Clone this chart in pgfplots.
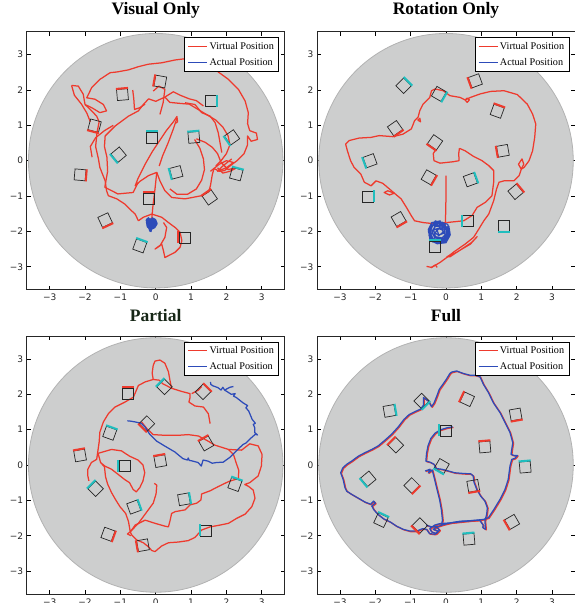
\documentclass[border=0pt]{standalone}
\usepackage{fontspec}
\setmainfont{Liberation Serif}
\newfontfamily\tickfont{DejaVu Sans}
\usepackage{pgfplots}
\usepackage{pgfplotstable}
\pgfplotsset{compat=1.18}
\definecolor{vred}{RGB}{238,58,45}
\definecolor{vblue}{RGB}{45,75,185}
\definecolor{vcyan}{RGB}{32,190,190}
\definecolor{disk}{RGB}{205,206,206}
\definecolor{diskedge}{RGB}{178,178,178}
\definecolor{ptitle}{RGB}{22,38,22}

\pgfdeclareplotmark{sq}{%
  \pgfpathrectangle{\pgfpoint{-\pgfplotmarksize}{-\pgfplotmarksize}}{\pgfpoint{2*\pgfplotmarksize}{2*\pgfplotmarksize}}%
  \pgfusepathqstroke}
\pgfdeclareplotmark{edge}{%
  \pgfpathmoveto{\pgfpoint{-\pgfplotmarksize-0.6pt}{\pgfplotmarksize+0.7pt}}%
  \pgfpathlineto{\pgfpoint{\pgfplotmarksize+0.6pt}{\pgfplotmarksize+0.7pt}}%
  \pgfusepathqstroke}

\pgfplotsset{
  panel/.style={
    width=258pt, height=258pt, scale only axis, anchor=south west,
    xmin=-3.65, xmax=3.65, ymin=-3.65, ymax=3.65,
    xtick={-3,-2,-1,0,1,2,3}, ytick={-3,-2,-1,0,1,2,3},
    xticklabels={−3,−2,−1,0,1,2,3}, yticklabels={−3,−2,−1,0,1,2,3},
    tick align=inside, major tick length=4pt,
    tick style={black, line width=0.6pt},
    axis line style={black!85, line width=0.9pt},
    ticklabel style={font=\tickfont\fontsize{9}{10}\selectfont, text=black!85},
    xticklabel style={yshift=-1pt},
    legend style={at={(0.979,0.978)}, anchor=north east, draw=black, line width=0.8pt,
      fill=white, font=\fontsize{10.2}{12}\selectfont, inner xsep=3pt, inner ysep=2.2pt,
      row sep=3.6pt},
    legend cell align=left,
    legend image code/.code={\path (-2pt,0pt) -- (17pt,0pt);\draw[#1, line width=1.3pt] (0pt,0pt) -- (14pt,0pt);},
    title style={font=\bfseries\fontsize{17.5}{20}\selectfont, anchor=base, at={(0.5,1)}, yshift=11pt},
  },
  boxes/.style={scatter, only marks, mark=sq, mark size=5.5pt,
    mark options={draw=black!85, line width=0.7pt, solid},
    visualization depends on={\thisrow{a} \as \rot},
    scatter/@pre marker code/.code={\pgfscope\pgftransformrotate{\rot}},
    scatter/@post marker code/.code={\endpgfscope}, forget plot},
  edges/.style={scatter, only marks, mark=edge, mark size=5.5pt,
    mark options={line width=2pt, solid},
    visualization depends on={\thisrow{a} \as \rot},
    visualization depends on={\thisrow{c} \as \col},
    scatter/@pre marker code/.code={\pgfscope\pgftransformrotate{\rot}\pgfmathtruncatemacro\cc{\col}\ifnum\cc=0 \pgfsetstrokecolor{vred}\else\pgfsetstrokecolor{vcyan}\fi},
    scatter/@post marker code/.code={\endpgfscope}, forget plot},
  vpath/.style={vred, line width=1.25pt, line join=round, forget plot},
  apath/.style={vblue, line width=1.25pt, line join=round, forget plot},
}

% squares: x y rotation colour(0 red, 1 cyan)
\pgfplotstableread[row sep=\\]{
x y a c\\
0.13 2.24 80 0\\
-0.94 1.87 5 0\\
1.56 1.68 -90 1\\
-1.73 0.99 165 0\\
-0.10 0.66 0 1\\
1.08 0.66 5 1\\
2.16 0.66 125 1\\
-1.05 0.17 130 1\\
-2.14 -0.40 -95 0\\
0.58 -0.33 105 1\\
2.28 -0.38 -15 1\\
-0.19 -1.07 0 0\\
1.53 -1.04 35 0\\
-1.43 -1.68 -155 0\\
0.82 -2.17 90 0\\
-0.45 -2.41 -20 1\\
}\sqA
\pgfplotstableread[row sep=\\]{
x y a c\\
-1.20 2.12 -45 1\\
0.83 2.26 110 0\\
-0.20 1.89 -120 1\\
1.45 1.40 -20 0\\
-1.44 0.92 -145 0\\
-0.31 0.52 145 0\\
1.61 0.28 100 0\\
-2.15 0.00 110 1\\
-0.49 -0.47 -120 0\\
0.69 -0.54 -70 1\\
-2.21 -1.01 -90 1\\
1.97 -0.88 -50 0\\
-1.34 -1.65 -150 0\\
0.62 -1.70 90 1\\
1.64 -1.84 180 1\\
-0.31 -2.43 0 1\\
}\sqB
\pgfplotstableread[row sep=\\]{
x y a c\\
-0.78 2.02 0 0\\
0.25 2.21 45 1\\
1.34 2.07 -45 0\\
-0.25 1.17 135 0\\
-1.30 0.90 -20 1\\
1.43 0.61 30 0\\
-2.14 0.27 10 0\\
0.13 0.11 10 0\\
-0.88 -0.03 90 1\\
-1.70 -0.67 45 1\\
2.24 -0.55 -20 1\\
0.80 -0.97 -80 1\\
-0.62 -1.19 -70 1\\
1.42 -1.85 90 1\\
-1.35 -1.96 -110 0\\
-0.36 -2.27 100 0\\
}\sqC
\pgfplotstableread[row sep=\\]{
x y a c\\
-1.60 1.53 -80 1\\
-0.69 1.81 -135 1\\
0.60 1.86 65 0\\
1.97 1.43 -170 0\\
-0.01 0.98 90 1\\
-1.42 0.56 45 0\\
1.10 0.51 5 0\\
-0.12 -0.03 150 1\\
2.24 -0.06 5 1\\
-2.20 -0.39 130 1\\
-0.97 -0.58 -135 0\\
0.77 -0.59 -170 0\\
-1.84 -1.56 -25 1\\
-0.74 -1.71 135 0\\
1.87 -1.61 120 0\\
0.65 -2.10 5 1\\
}\sqD

\begin{document}
\begin{tikzpicture}
\path[use as bounding box, clip] (0pt,0pt) rectangle (575pt,603pt);

% ---------------- Visual Only
\begin{axis}[panel, at={(26.7pt,313.3pt)}, title={Visual Only}]
\fill[disk, draw=diskedge, line width=0.8pt] (axis cs:0,0) circle[radius=3.6];
\addplot[black!85, boxes] table {\sqA};
\addplot[edges] table {\sqA};
\addplot[vpath] coordinates {(-2.38,2.13) (-2.19,2.11) (-2.05,1.88) (-2.0,1.59) (-1.81,1.5) (-1.58,1.36) (-1.39,1.41) (-1.48,1.59) (-1.72,1.74) (-1.95,1.78) (-1.81,2.07) (-1.58,2.30) (-1.29,2.49) (-1.10,2.51) (-0.77,2.57) (-0.49,2.66) (-0.21,2.73) (0.17,2.77) (0.55,2.85) (0.95,2.9) (1.4,2.92) (1.65,2.8) (1.77,2.51) (2.06,2.30) (2.34,2.02) (2.53,1.69) (2.62,1.36) (2.6,1.05) (2.66,0.85) (2.85,0.78) (2.88,0.6) (2.7,0.55) (2.6,0.7) (2.6,0.45) (2.5,0.2) (2.3,0.0) (2.1,-0.15) (1.95,-0.28) (1.8,-0.3) (1.65,-0.22) (1.6,-0.4) (1.55,-0.7) (1.5,-0.88) (1.3,-0.99) (0.83,-1.08) (0.45,-1.04) (0.26,-0.85) (0.12,-0.57) (0.03,-0.33)};
\addplot[vpath] coordinates {(-0.12,-1.75) (-0.08,-1.3) (-0.02,-0.8) (0.03,-0.33) (-0.2,-0.42) (-0.44,-0.58) (-0.58,-0.71) (-0.5,-0.5) (-0.3,-0.1) (-0.1,0.25) (0.1,0.55) (0.3,0.85) (0.5,1.1) (0.6,1.25) (0.62,1.1) (0.55,1.05)};
\addplot[vpath] coordinates {(-0.49,-1.70) (-0.58,-1.51) (-0.68,-1.42) (-0.87,-1.23) (-1.10,-1.08) (-1.34,-0.99) (-1.39,-0.85) (-1.43,-0.57) (-1.58,-0.19) (-1.62,0.05) (-1.7,0.4) (-1.66,0.8) (-1.6,1.1) (-1.67,1.26) (-1.85,1.45) (-2.0,1.59)};
\addplot[vpath] coordinates {(-1.36,-0.3) (-1.38,0.1) (-1.45,0.4) (-1.43,0.7) (-1.15,0.98) (-0.77,1.26) (-0.49,1.41) (-0.35,1.59) (-0.2,1.75) (0.0,1.68) (0.26,1.8) (0.4,1.65) (0.7,1.62) (0.95,1.6) (1.2,1.45) (1.45,1.3) (1.7,1.15) (1.9,0.95) (2.05,0.7) (2.1,0.45) (2.0,0.2) (1.85,0.0) (1.7,-0.15)};
\addplot[vpath] coordinates {(-0.65,2.0) (-0.62,1.75) (-0.6,1.45) (-0.45,1.5) (-0.3,1.6)};
\addplot[vpath] coordinates {(-0.07,1.97) (0.09,2.11) (0.26,2.02) (0.21,1.64) (0.12,1.31)};
\addplot[vpath] coordinates {(0.83,1.64) (1.11,1.59) (1.30,1.36) (1.54,1.26) (1.68,1.08) (1.77,0.79) (1.82,0.51) (1.87,0.23)};
\addplot[vpath] coordinates {(1.15,0.62) (1.4,0.52) (1.6,0.38) (1.75,0.2) (1.85,-0.05) (2.05,-0.25) (2.3,-0.2) (2.1,-0.3) (1.9,-0.35) (1.75,-0.2)};
\addplot[vpath] coordinates {(1.55,-0.3) (1.8,-0.1) (2.0,0.0) (2.2,-0.05) (2.0,-0.2) (1.75,-0.3) (1.9,-0.15) (2.15,0.05)};
\addplot[vpath] coordinates {(0.26,1.8) (0.5,1.95) (0.7,1.85) (0.95,1.75) (1.15,1.7) (1.35,1.55)};
\addplot[vpath] coordinates {(-1.8,0.1) (-1.85,0.4) (-1.7,0.65) (-1.45,0.85) (-1.2,1.0)};
\addplot[vpath] coordinates {(1.1,0.6) (1.25,0.35) (1.35,0.05) (1.38,-0.25) (1.3,-0.55) (1.15,-0.8) (0.9,-0.95) (0.6,-0.95) (0.4,-0.8)};
\addplot[vpath] coordinates {(0.6,1.2) (0.5,0.9) (0.35,0.5) (0.2,0.15) (0.1,-0.15)};
\addplot[vpath] coordinates {(-2.38,2.13) (-2.3,1.85) (-2.1,1.6) (-1.95,1.35) (-1.85,1.1)};
\addplot[vpath] coordinates {(-0.49,-1.70) (-0.35,-1.6) (-0.11,-1.51) (0.17,-1.60) (0.36,-1.75) (0.55,-1.89) (0.69,-2.03) (0.74,-2.26) (0.69,-2.45) (0.55,-2.59) (0.26,-2.74) (0.22,-2.55) (0.17,-2.36) (-0.02,-2.5) (0.12,-2.41) (0.26,-2.17) (0.31,-1.89) (0.22,-1.75)};
\addplot[vpath] coordinates {(-1.36,-0.3) (-1.44,-0.75) (-1.07,-0.94) (-0.64,-0.90) (-0.5,-0.62)};
\addplot[vblue, line width=2.6pt, line join=round, forget plot] coordinates {(-0.12,-1.63) (-0.02,-1.68) (0.02,-1.78) (-0.04,-1.88) (-0.14,-1.93) (-0.22,-1.86) (-0.24,-1.74) (-0.17,-1.66) (-0.06,-1.72) (-0.05,-1.83) (-0.15,-1.87) (-0.2,-1.78) (-0.12,-1.72) (-0.1,-1.8) (-0.16,-1.96) (-0.14,-1.99) (-0.18,-1.9) (-0.25,-1.68) (-0.18,-1.62)};
\addlegendimage{draw=vred}\addlegendentry{Virtual Position}
\addlegendimage{draw=vblue}\addlegendentry{Actual Position}
\end{axis}

% ---------------- Rotation Only
\begin{axis}[panel, at={(317pt,313.3pt)}, title={Rotation Only}]
\fill[disk, draw=diskedge, line width=0.8pt] (axis cs:0,0) circle[radius=3.6];
\addplot[black!85, boxes] table {\sqB};
\addplot[edges] table {\sqB};
\addplot[vpath] coordinates {(0.02,-1.75) (-0.46,-1.77) (-0.65,-1.75) (-0.89,-1.70) (-0.98,-1.56) (-1.12,-1.32) (-1.27,-1.08) (-1.46,-0.92) (-1.60,-0.80) (-1.79,-0.64) (-1.98,-0.57) (-2.12,-0.71) (-2.31,-0.61) (-2.41,-0.38) (-2.60,-0.19) (-2.70,0.0) (-2.79,0.28) (-2.84,0.47) (-2.74,0.57) (-2.46,0.64) (-2.12,0.66) (-1.89,0.71) (-1.50,0.68) (-1.22,0.75) (-0.98,0.90) (-0.89,1.13) (-0.79,1.23) (-0.74,1.42) (-0.65,1.60) (-0.46,1.79) (-0.41,1.98) (-0.31,2.03) (-0.08,1.98) (0.11,1.84) (0.40,1.79) (0.54,1.72) (0.69,1.79) (0.97,1.89) (1.26,1.96) (1.64,1.98) (2.02,1.87) (2.30,1.60) (2.45,1.32) (2.54,1.04) (2.51,0.66) (2.45,0.28) (2.35,0.0) (2.21,-0.19) (2.13,-0.24) (2.07,-0.42) (1.92,-0.57) (1.64,-0.57) (1.50,-0.61) (1.43,-0.80) (1.35,-1.13) (1.21,-1.51) (1.07,-1.70) (0.90,-1.98) (0.78,-2.17) (0.54,-2.36) (0.21,-2.59) (0.02,-2.74) (-0.17,-2.88) (-0.41,-3.02) (-0.55,-2.99)};
\addplot[vpath] coordinates {(0.02,-2.72) (0.30,-2.59) (0.69,-2.36) (0.88,-2.15) (0.73,-2.31) (0.40,-2.53) (0.11,-2.72) (0.02,-2.72)};
\addplot[vpath] coordinates {(0.0,-0.42) (0.0,-1.0) (-0.01,-1.5) (-0.02,-1.85)};
\addplot[vpath] coordinates {(0.38,0.35) (0.54,0.28) (0.78,0.12) (1.02,0.0) (1.21,-0.14) (1.35,-0.28) (1.35,-0.6) (1.30,-0.99) (1.11,-1.18) (0.88,-1.32) (0.74,-1.55) (0.50,-1.70) (0.02,-1.75)};
\addplot[vpath] coordinates {(0.38,0.35) (0.36,0.2) (0.37,0.0) (0.2,-0.03) (-0.17,-0.07) (-0.34,0.0) (-0.36,0.2) (-0.3,0.3)};
\addplot[vpath] coordinates {(-1.46,-0.92) (-1.65,-0.85) (-1.75,-0.9) (-1.6,-0.97) (-1.46,-0.92)};
\addplot[vpath] coordinates {(2.13,-0.24) (2.2,-0.1) (2.15,0.05) (2.05,-0.1) (2.13,-0.24)};
\addplot[vpath] coordinates {(-0.8,1.15) (-0.74,1.2) (-0.72,1.1) (-0.8,1.15)};
\addplot[vpath] coordinates {(0.54,1.72) (0.6,1.65) (0.66,1.72) (0.6,1.77) (0.54,1.72)};
\addplot[vpath] coordinates {(-0.43,-3.03) (-0.3,-2.95) (-0.25,-3.02)};
\addplot[vblue, line width=1.2pt, line join=round, forget plot] coordinates {(-0.2,-1.72) (0.05,-1.8) (0.1,-2.05) (-0.02,-2.3) (-0.3,-2.32) (-0.48,-2.12) (-0.45,-1.85) (-0.25,-1.75) (0.0,-1.9) (0.02,-2.15) (-0.2,-2.25) (-0.4,-2.05) (-0.3,-1.82) (-0.05,-1.85) (0.08,-2.1) (-0.1,-2.32) (-0.35,-2.25) (-0.47,-1.98) (-0.35,-1.78) (-0.1,-1.74) (0.06,-1.95) (-0.05,-2.2) (-0.3,-2.15) (-0.35,-1.95) (-0.15,-1.9) (-0.05,-2.05) (-0.2,-2.1) (-0.25,-1.98) (-0.12,-1.8) (0.1,-1.95) (0.0,-2.25) (-0.38,-2.3) (-0.5,-2.0) (-0.3,-1.7) (-0.2,-1.75) (-0.02,-1.83) (0.05,-2.0) (-0.02,-2.2) (-0.2,-2.28) (-0.38,-2.2) (-0.45,-2.02) (-0.38,-1.84) (-0.2,-1.78) (-0.05,-1.9) (-0.03,-2.1) (-0.15,-2.22) (-0.32,-2.18) (-0.4,-2.0) (-0.3,-1.86) (-0.12,-1.85) (-0.08,-2.02) (-0.2,-2.12) (-0.3,-2.05) (-0.25,-1.92) (-0.1,-1.95) (0.08,-1.85) (0.12,-2.1) (0.0,-2.32) (-0.25,-2.35) (-0.45,-2.25) (-0.5,-1.95) (-0.4,-1.75) (-0.15,-1.7)};
\addlegendimage{draw=vred}\addlegendentry{Virtual Position}
\addlegendimage{draw=vblue}\addlegendentry{Actual Position}
\end{axis}

% ---------------- Partial
\begin{axis}[panel, at={(26.7pt,9pt)}, title={Partial}, title style={yshift=-3pt, text=ptitle}]
\fill[disk, draw=diskedge, line width=0.8pt] (axis cs:0,0) circle[radius=3.6];
\addplot[black!85, boxes] table {\sqC};
\addplot[edges] table {\sqC};
\addplot[vpath] coordinates {(0.45,2.17) (0.41,2.36) (0.36,2.64) (0.26,2.88) (0.12,2.97) (-0.02,2.94) (-0.07,2.82) (-0.1,2.6) (-0.07,2.42) (-0.30,2.35) (-0.49,2.25) (-0.63,1.92) (-0.87,1.78) (-1.15,1.64) (-1.34,1.45) (-1.48,1.22) (-1.58,0.93) (-1.60,0.65) (-1.64,0.37) (-1.67,0.16) (-1.82,0.07) (-1.92,-0.12) (-1.92,-0.31) (-1.89,-0.45)};
\addplot[vpath] coordinates {(-0.07,2.42) (0.1,2.4) (0.2,2.3) (0.45,2.17) (0.74,2.08) (0.97,2.02) (0.97,1.9) (0.94,1.78) (1.11,1.67) (1.35,1.64) (1.49,1.45) (1.54,1.17)};
\addplot[vpath] coordinates {(1.02,2.02) (1.21,2.12) (1.3,2.22)};
\addplot[vpath] coordinates {(-0.40,1.22) (-0.25,1.03) (-0.07,0.86) (0.26,0.84) (0.64,0.84) (0.92,0.86) (1.21,0.82) (1.44,0.70) (1.68,0.56) (2.06,0.44) (2.43,0.42) (2.66,0.6) (2.90,0.54) (3.01,0.30) (2.99,-0.03) (2.90,-0.31) (2.66,-0.50) (2.52,-0.55) (2.62,-0.6) (2.76,-0.71) (2.81,-0.94) (2.72,-1.18) (2.53,-1.39) (2.29,-1.51) (2.06,-1.65) (1.77,-1.71) (1.54,-1.75) (1.30,-1.84) (1.11,-2.05) (0.92,-2.14) (0.64,-2.18) (0.36,-2.20) (0.17,-2.29) (-0.02,-2.45) (-0.11,-2.42) (-0.21,-2.31) (-0.35,-2.20) (-0.54,-2.12) (-0.68,-1.98) (-0.72,-1.89)};
\addplot[vpath] coordinates {(2.06,0.44) (2.2,0.3) (2.28,0.05) (2.35,-0.15) (2.34,-0.38) (2.06,-0.47) (1.77,-0.61) (1.54,-0.73) (1.30,-0.82) (1.28,-0.99) (1.16,-1.08) (0.97,-1.13) (0.83,-1.27) (0.55,-1.32) (0.45,-1.37) (0.41,-1.56) (0.36,-1.75) (0.26,-1.73) (-0.02,-1.65) (-0.30,-1.56) (-0.58,-1.70) (-0.68,-1.84) (-0.72,-1.89) (-0.77,-1.60) (-0.85,-1.37) (-1.01,-1.18) (-1.13,-0.99) (-1.25,-0.78) (-1.36,-0.54) (-1.42,-0.33) (-1.45,-0.05) (-1.56,0.07) (-1.63,0.33) (-1.25,0.44) (-0.97,0.40) (-0.74,0.25) (-0.50,0.14) (-0.36,0.0) (-0.31,-0.22) (-0.36,-0.45) (-0.45,-0.64) (-0.55,-0.76) (-0.64,-0.69) (-0.74,-0.50) (-0.88,-0.41) (-1.07,-0.26) (-1.25,-0.12) (-1.44,-0.03) (-1.56,0.07)};
\addplot[vpath] coordinates {(-0.72,-1.89) (-0.49,-1.65) (-0.35,-1.46) (-0.21,-1.27) (-0.07,-1.08) (0.01,-0.82) (0.03,-0.57) (-0.04,-0.52)};
\addplot[vpath] coordinates {(-0.72,-1.89) (-0.8,-1.95) (-0.7,-2.0)};
\addplot[apath] coordinates {(-0.80,1.25) (-0.7,1.24) (-0.59,1.22) (-0.5,1.2) (-0.41,1.18) (-0.29,1.06) (-0.17,0.87) (0.02,0.68) (0.25,0.54) (0.54,0.37) (0.77,0.18) (0.9,0.14) (0.92,0.2) (0.95,0.13) (1.01,0.12) (1.20,0.07) (1.29,-0.03) (1.34,0.14) (1.48,0.11) (1.6,0.05) (1.72,0.07) (1.91,0.08) (2.09,0.21) (2.28,0.40) (2.47,0.58) (2.55,0.62) (2.66,0.73) (2.82,0.87) (2.88,0.85) (2.8,0.92) (2.80,1.06) (2.76,1.15) (2.82,1.18) (2.73,1.29) (2.63,1.53) (2.55,1.62) (2.6,1.68) (2.47,1.76) (2.28,1.91) (2.2,1.95) (2.25,2.02) (2.14,2.0) (1.95,2.12) (1.9,2.2) (1.85,2.12) (1.76,2.19) (1.62,2.24) (1.56,2.28) (1.55,2.35)};
\addplot[apath] coordinates {(1.95,2.12) (2.1,2.2) (2.2,2.22)};
\addlegendimage{draw=vred}\addlegendentry{Virtual Position}
\addlegendimage{draw=vblue}\addlegendentry{Actual Position}
\end{axis}

% ---------------- Full
\begin{axis}[panel, at={(317pt,9pt)}, title={Full}, title style={yshift=-3pt}]
\fill[disk, draw=diskedge, line width=0.8pt] (axis cs:0,0) circle[radius=3.6];
\addplot[black!85, boxes] table {\sqD};
\addplot[edges] table {\sqD};
\addplot[vpath, xshift=0.8pt, yshift=-0.6pt] coordinates {(0.16,2.63) (0.30,2.66) (0.49,2.59) (0.68,2.54) (0.82,2.54) (0.96,2.50) (1.06,2.28) (1.20,2.05) (1.34,1.76) (1.53,1.48) (1.67,1.20) (1.81,0.92) (1.89,0.63) (1.86,0.44) (1.84,0.30) (1.92,0.27) (2.02,0.27) (1.95,0.19) (1.86,0.16) (1.81,-0.03) (1.76,-0.41) (1.67,-0.69) (1.53,-0.97) (1.36,-1.25) (1.20,-1.49) (1.06,-1.54) (0.87,-1.56) (0.63,-1.58) (0.40,-1.59) (0.16,-1.63) (-0.08,-1.69) (-0.26,-1.75) (-0.36,-1.82) (-0.22,-1.87) (-0.31,-1.96) (-0.47,-1.94) (-0.55,-1.82) (-0.66,-1.80) (-0.83,-1.87) (-1.02,-1.87) (-1.21,-1.82) (-1.40,-1.73) (-1.58,-1.61) (-1.77,-1.52) (-1.92,-1.40) (-2.04,-1.27) (-2.10,-1.16) (-2.0,-1.08) (-2.05,-1.02) (-2.13,-1.11) (-2.29,-1.05) (-2.48,-0.94) (-2.67,-0.83) (-2.81,-0.74) (-2.86,-0.64) (-2.91,-0.41) (-2.98,-0.22) (-2.92,-0.08) (-2.81,0.02) (-2.67,0.11) (-2.48,0.25) (-2.29,0.35) (-2.10,0.44) (-1.92,0.54) (-1.73,0.70) (-1.54,0.87) (-1.35,1.08) (-1.19,1.29) (-1.04,1.43) (-0.88,1.51) (-0.72,1.58) (-0.64,1.69) (-0.64,1.91) (-0.50,1.81) (-0.41,1.65) (-0.34,1.75) (-0.26,1.95) (-0.19,2.14) (-0.09,2.28) (0.02,2.44) (0.11,2.59) (0.16,2.63)};
\addplot[vpath, xshift=0.8pt, yshift=-0.6pt] coordinates {(0.19,1.08) (0.02,1.05) (-0.17,0.99) (-0.31,0.90) (-0.43,0.75) (-0.51,0.54) (-0.55,0.33) (-0.57,0.11) (-0.45,0.08) (-0.34,0.02) (-0.28,-0.10) (-0.12,-0.12) (0.07,-0.17) (0.25,-0.22) (0.49,-0.24) (0.70,-0.25) (0.77,-0.31) (0.79,-0.48) (0.87,-0.69) (0.98,-0.88) (1.10,-1.02) (1.17,-1.21) (1.15,-1.40) (1.10,-1.58) (1.12,-1.82) (1.04,-1.77) (1.05,-1.70) (0.95,-1.56) (0.67,-1.58) (0.39,-1.61) (0.10,-1.64) (-0.18,-1.66) (-0.32,-1.70) (-0.46,-1.80) (-0.41,-1.89) (-0.27,-1.94) (-0.18,-1.84) (-0.27,-1.75) (-0.41,-1.75) (-0.56,-1.70)};
\addplot[vpath, xshift=0.8pt, yshift=-0.6pt] coordinates {(-0.59,-0.17) (-0.45,-0.12) (-0.5,-0.22) (-0.39,-0.14) (-0.32,-0.42) (-0.25,-0.71) (-0.18,-0.99) (-0.13,-1.27) (-0.10,-1.56) (-0.13,-1.70)};
\addplot[apath] coordinates {(0.16,2.63) (0.30,2.66) (0.49,2.59) (0.68,2.54) (0.82,2.54) (0.96,2.50) (1.06,2.28) (1.20,2.05) (1.34,1.76) (1.53,1.48) (1.67,1.20) (1.81,0.92) (1.89,0.63) (1.86,0.44) (1.84,0.30) (1.92,0.27) (2.02,0.27) (1.95,0.19) (1.86,0.16) (1.81,-0.03) (1.76,-0.41) (1.67,-0.69) (1.53,-0.97) (1.36,-1.25) (1.20,-1.49) (1.06,-1.54) (0.87,-1.56) (0.63,-1.58) (0.40,-1.59) (0.16,-1.63) (-0.08,-1.69) (-0.26,-1.75) (-0.36,-1.82) (-0.22,-1.87) (-0.31,-1.96) (-0.47,-1.94) (-0.55,-1.82) (-0.66,-1.80) (-0.83,-1.87) (-1.02,-1.87) (-1.21,-1.82) (-1.40,-1.73) (-1.58,-1.61) (-1.77,-1.52) (-1.92,-1.40) (-2.04,-1.27) (-2.10,-1.16) (-2.0,-1.08) (-2.05,-1.02) (-2.13,-1.11) (-2.29,-1.05) (-2.48,-0.94) (-2.67,-0.83) (-2.81,-0.74) (-2.86,-0.64) (-2.91,-0.41) (-2.98,-0.22) (-2.92,-0.08) (-2.81,0.02) (-2.67,0.11) (-2.48,0.25) (-2.29,0.35) (-2.10,0.44) (-1.92,0.54) (-1.73,0.70) (-1.54,0.87) (-1.35,1.08) (-1.19,1.29) (-1.04,1.43) (-0.88,1.51) (-0.72,1.58) (-0.64,1.69) (-0.64,1.91) (-0.50,1.81) (-0.41,1.65) (-0.34,1.75) (-0.26,1.95) (-0.19,2.14) (-0.09,2.28) (0.02,2.44) (0.11,2.59) (0.16,2.63)};
\addplot[apath] coordinates {(0.19,1.08) (0.02,1.05) (-0.17,0.99) (-0.31,0.90) (-0.43,0.75) (-0.51,0.54) (-0.55,0.33) (-0.57,0.11) (-0.45,0.08) (-0.34,0.02) (-0.28,-0.10) (-0.12,-0.12) (0.07,-0.17) (0.25,-0.22) (0.49,-0.24) (0.70,-0.25) (0.77,-0.31) (0.79,-0.48) (0.87,-0.69) (0.98,-0.88) (1.10,-1.02) (1.17,-1.21) (1.15,-1.40) (1.10,-1.58) (1.12,-1.82) (1.04,-1.77) (1.05,-1.70) (0.95,-1.56) (0.67,-1.58) (0.39,-1.61) (0.10,-1.64) (-0.18,-1.66) (-0.32,-1.70) (-0.46,-1.80) (-0.41,-1.89) (-0.27,-1.94) (-0.18,-1.84) (-0.27,-1.75) (-0.41,-1.75) (-0.56,-1.70)};
\addplot[apath] coordinates {(-0.59,-0.17) (-0.45,-0.12) (-0.5,-0.22) (-0.39,-0.14) (-0.32,-0.42) (-0.25,-0.71) (-0.18,-0.99) (-0.13,-1.27) (-0.10,-1.56) (-0.13,-1.70)};
\addlegendimage{draw=vred}\addlegendentry{Virtual Position}
\addlegendimage{draw=vblue}\addlegendentry{Actual Position}
\end{axis}
\end{tikzpicture}
\end{document}
